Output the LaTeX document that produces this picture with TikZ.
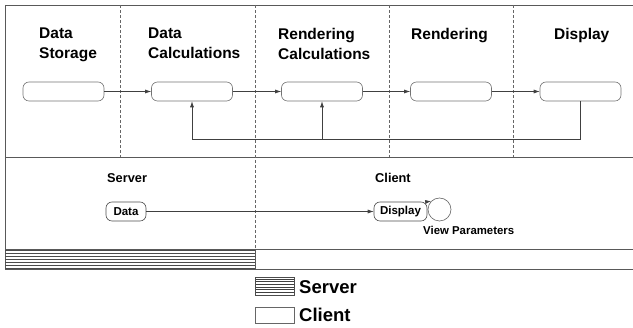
\documentclass[tikz,border=0pt]{standalone}
\usepackage{fontspec}
\setmainfont{Liberation Sans}
\usetikzlibrary{arrows.meta}
\begin{document}
\begin{tikzpicture}[x=1pt,y=-1pt,
  frame/.style={draw=black!65, line width=0.9pt},
  sep/.style={draw=black!60, dashed, dash pattern=on 3pt off 2pt, line width=0.6pt},
  lbl/.style={font=\bfseries\fontsize{15.5}{20}\selectfont, align=left, anchor=north west, inner sep=0pt},
  slbl/.style={font=\bfseries\fontsize{12.8}{15}\selectfont, anchor=base west, inner sep=0pt},
  rbox/.style={draw=black!55, rounded corners=6pt, minimum width=81pt, minimum height=19pt, inner sep=0pt, line width=0.6pt},
  sbox/.style={draw=black!70, rounded corners=6pt, minimum height=19pt, inner sep=0pt, line width=0.6pt, font=\bfseries\fontsize{11.5}{13}\selectfont},
  conn/.style={draw=black!75, line width=0.6pt},
  arr/.style={conn, -{Latex[length=6pt,width=4pt]}},
  hatch/.style={line width=1.1pt, draw=black!70},
  leg/.style={font=\bfseries\fontsize{18.5}{20}\selectfont, anchor=west, inner sep=0pt}
]
\useasboundingbox (0,0) rectangle (633,328);
% frame lines
\draw[frame] (5,5) -- (633,5);
\draw[frame] (5,157) -- (633,157);
\draw[frame] (5,249) -- (633,249);
\draw[frame] (5,269) -- (633,269);
\draw[frame] (5,5) -- (5,269);
% dashed separators
\draw[sep] (120,5) -- (120,157);
\draw[sep] (255,5) -- (255,249);
\draw[sep] (389,5) -- (389,157);
\draw[sep] (513,5) -- (513,157);
% hatched strip
\foreach \yy in {250.5,253.5,...,268.5} \draw[hatch] (5,\yy) -- (255,\yy);
\draw[frame] (255,249) -- (255,269);
% stage labels
\node[lbl] at (39,28) {Data\\Storage};
\node[lbl] at (148,28) {Data\\Calculations};
\node[lbl] at (278,28) {Rendering\\Calculations};
\node[lbl] at (411,28) {Rendering};
\node[lbl] at (554,28) {Display};
% boxes
\node[rbox] (b1) at (63.5,91.5) {};
\node[rbox] (b2) at (192,91.5) {};
\node[rbox] (b3) at (322,91.5) {};
\node[rbox] (b4) at (451,91.5) {};
\node[rbox] (b5) at (580.5,91.5) {};
\draw[arr] (b1) -- (b2);
\draw[arr] (b2) -- (b3);
\draw[arr] (b3) -- (b4);
\draw[arr] (b4) -- (b5);
\coordinate (fb) at (0,139);
\draw[arr] (b5.south) |- (fb -| b2.south) -- (b2.south);
\draw[arr] (fb -| b3.south) -- (b3.south);
% lower section
\node[slbl] at (107,183) {Server};
\node[slbl] at (375,183) {Client};
\node[sbox, minimum width=40pt] (d1) at (126,211.5) {Data};
\node[sbox, minimum width=53pt] (d2) at (400.5,211.5) {Display};
\draw[arr] (d1) -- (d2);
\node[draw=black!60, circle, minimum size=23pt, inner sep=0pt, line width=0.6pt] (vp) at (439.5,209.5) {};
\draw[arr] (d2.north east) -- (vp.135);
\node[font=\bfseries\fontsize{11.4}{13}\selectfont, anchor=base west, inner sep=0pt] at (423,235) {View Parameters};
% legend
\node[minimum width=39pt, minimum height=17pt, inner sep=0pt] (ls) at (274.5,286.5) {};
\foreach \yy in {279,281.7,...,295} \draw[line width=0.8pt, draw=black!75] (255,\yy) -- (294,\yy);
\draw[black!70, line width=0.6pt] (ls.south west) rectangle (ls.north east);
\node[leg] at (299,287) {Server};
\node[draw=black!60, line width=0.6pt, minimum width=39pt, minimum height=16pt, inner sep=0pt] (lc) at (274.5,315) {};
\node[leg] at (299,315) {Client};
\end{tikzpicture}
\end{document}
